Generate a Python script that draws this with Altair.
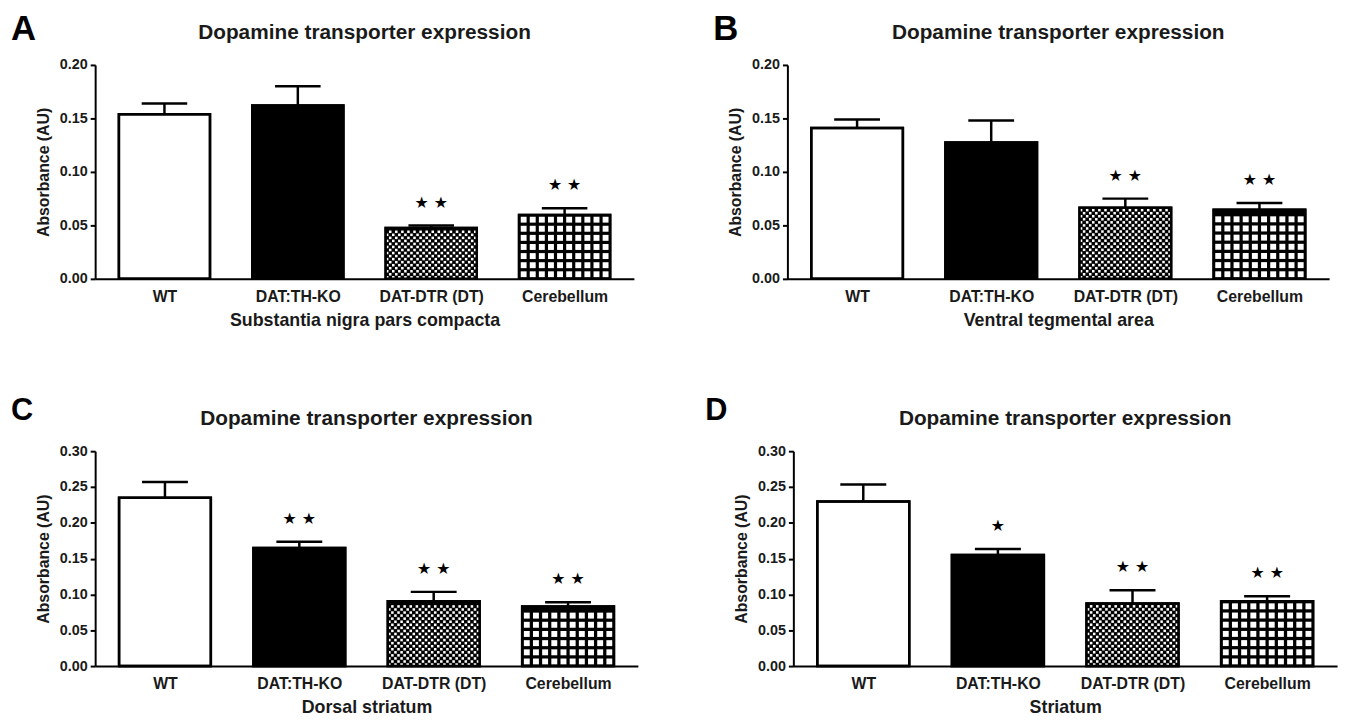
import altair as alt
import pandas as pd

categories = ["WT", "DAT:TH-KO", "DAT-DTR (DT)", "Cerebellum"]
bar_fills = ["white", "black", "black", "black"]
panel_letters = ["A", "B", "C", "D"]
chart_title = "Dopamine transporter expression"
region_names = ["Substantia nigra pars compacta", "Ventral tegmental area",
                "Dorsal striatum", "Striatum"]
y_max = [0.20, 0.20, 0.30, 0.30]

means_A = [0.154, 0.162, 0.0475, 0.0596]
errs_A = [0.010, 0.018, 0.0024, 0.0065]
stars_A = ["", "", "★ ★", "★ ★"]

means_B = [0.141, 0.1275, 0.0666, 0.0647]
errs_B = [0.008, 0.0205, 0.0084, 0.0063]
stars_B = ["", "", "★ ★", "★ ★"]

means_C = [0.235, 0.165, 0.0906, 0.0833]
errs_C = [0.022, 0.0085, 0.013, 0.0059]
stars_C = ["", "★ ★", "★ ★", "★ ★"]

means_D = [0.2297, 0.155, 0.0874, 0.0906]
errs_D = [0.0239, 0.0084, 0.0184, 0.0069]
stars_D = ["", "★", "★ ★", "★ ★"]

# band geometry in category-index units (1 unit = one category step)
PAD_IN = 0.317
PAD_OUT = 0.178
HALF = (1 - PAD_IN) / 2          # half bar width
CAP_HALF = HALF * 0.5            # half error-cap width
EDGE = PAD_OUT + HALF            # distance from first/last centre to plot edge
FONT = "Liberation Sans"
NCOL = 30

label_expr = "[" + ",".join("'%s'" % c for c in categories) + "][datum.value]"


def pattern_frame(means, ymax, width, height):
    step_px = width / (len(categories) - 1 + 2 * EDGE)
    cell_u = 2 * HALF / NCOL
    cell_px = cell_u * step_px
    ppu = height / ymax
    rows = []
    # fine checker pattern for DAT-DTR (DT)
    i = 2
    h = means[i] * ppu
    r = 0
    while (r + 0.5) * cell_px + 2.4 <= h:
        for c in range(NCOL):
            if (c + r) % 2 == 0:
                rows.append({"xv": i - HALF + (c + 0.5) * cell_u,
                             "yv": (r + 0.5) * cell_px / ppu, "sz": 6.5})
        r += 1
    # square grid pattern for Cerebellum
    i = 3
    h = means[i] * ppu
    k = 0
    while (3 * k + 1.5) * cell_px + 4.3 <= h:
        for j in range(NCOL // 3):
            rows.append({"xv": i - HALF + (3 * j + 1.5) * cell_u,
                         "yv": (3 * k + 1.5) * cell_px / ppu, "sz": 36})
        k += 1
    return pd.DataFrame(rows)


def panel(letter, means, errs, stars, region, ymax, width, height,
          letter_dx, letter_dy, letter_size):
    idx = list(range(len(categories)))
    df = pd.DataFrame({
        "idx": idx,
        "x0": [i - HALF for i in idx],
        "x1": [i + HALF for i in idx],
        "c0": [i - CAP_HALF for i in idx],
        "c1": [i + CAP_HALF for i in idx],
        "zero": [0.0] * len(idx),
        "mean": means,
        "top": [m + e for m, e in zip(means, errs)],
        "star": stars,
        "fill": bar_fills,
    })
    xscale = alt.Scale(domain=[-EDGE, len(categories) - 1 + EDGE], nice=False, zero=False)
    xaxis = alt.Axis(title=region, values=idx, labelExpr=label_expr, ticks=False,
                     grid=False, labelAngle=0, labelPadding=10, titlePadding=7,
                     labelFontSize=16, titleFontSize=18, labelOverlap=False)
    yscale = alt.Scale(domain=[0, ymax], nice=False)
    yvals = [round(v * 0.05, 2) for v in range(int(round(ymax / 0.05)) + 1)]
    yaxis = alt.Axis(title="Absorbance (AU)", format=".2f", values=yvals,
                     grid=False, tickSize=5, labelPadding=3, titlePadding=8,
                     labelFontSize=14.5, titleFontSize=16, labelOverlap=False)

    def X(f):
        return alt.X(f, scale=xscale, axis=xaxis)

    def Y(f):
        return alt.Y(f, scale=yscale, axis=yaxis)

    base = alt.Chart(df)
    bars = base.mark_rect(stroke="black", strokeWidth=2.5).encode(
        x=X("x0:Q"), x2="x1:Q", y=Y("mean:Q"), y2="zero:Q",
        fill=alt.Fill("fill:N", scale=None),
    )
    pat = alt.Chart(pattern_frame(means, ymax, width, height)).mark_point(
        shape="square", filled=True, color="white", opacity=1, strokeWidth=0
    ).encode(
        x=X("xv:Q"), y=Y("yv:Q"), size=alt.Size("sz:Q", scale=None),
    )
    outline = base.mark_rect(fillOpacity=0, stroke="black", strokeWidth=2.5).encode(
        x=X("x0:Q"), x2="x1:Q", y=Y("mean:Q"), y2="zero:Q")
    err = base.mark_rule(color="black", strokeWidth=2.5).encode(
        x=X("idx:Q"), y=Y("mean:Q"), y2="top:Q")
    cap = base.mark_rule(color="black", strokeWidth=2.5).encode(
        x=X("c0:Q"), x2="c1:Q", y=Y("top:Q"))
    star = base.mark_text(font="DejaVu Sans", fontSize=16, baseline="middle",
                          dy=-23, color="black").encode(
        x=X("idx:Q"), y=Y("top:Q"), text="star:N")
    title = alt.Chart(pd.DataFrame({"t": [chart_title]})).mark_text(
        font=FONT, fontWeight="bold", fontSize=21, align="center",
        baseline="alphabetic", color="#1a1a1a").encode(
        x=alt.value(width / 2), y=alt.value(-26), text="t:N")
    lab = alt.Chart(pd.DataFrame({"t": [letter]})).mark_text(
        font=FONT, fontWeight="bold", fontSize=letter_size, align="left",
        baseline="alphabetic", color="black").encode(
        x=alt.value(letter_dx), y=alt.value(letter_dy), text="t:N")
    return alt.layer(bars, pat, outline, err, cap, star, title, lab).properties(
        width=width, height=height)


pA = panel("A", means_A, errs_A, stars_A, region_names[0], y_max[0], 544, 216, -85, -25, 35)
pB = panel("B", means_B, errs_B, stars_B, region_names[1], y_max[1], 547, 216, -75, -25, 35)
pC = panel("C", means_C, errs_C, stars_C, region_names[2], y_max[2], 548, 217, -85, -31, 31)
pD = panel("D", means_D, errs_D, stars_D, region_names[3], y_max[3], 549, 217, -89, -31, 31)

chart = alt.vconcat(
    alt.hconcat(pA, pB, spacing=80),
    alt.hconcat(pC, pD, spacing=68),
    spacing=67,
).properties(
    padding={"left": 3, "top": 1, "right": 5, "bottom": 5}
).configure_view(stroke=None).configure_axis(
    labelFont=FONT, labelFontWeight="bold", labelColor="#1a1a1a",
    titleFont=FONT, titleFontWeight="bold", titleColor="#1a1a1a",
    domainColor="black", domainWidth=2, tickColor="black", tickWidth=2,
)

chart.save("out.html", embed_options={"renderer": "svg", "actions": False})
